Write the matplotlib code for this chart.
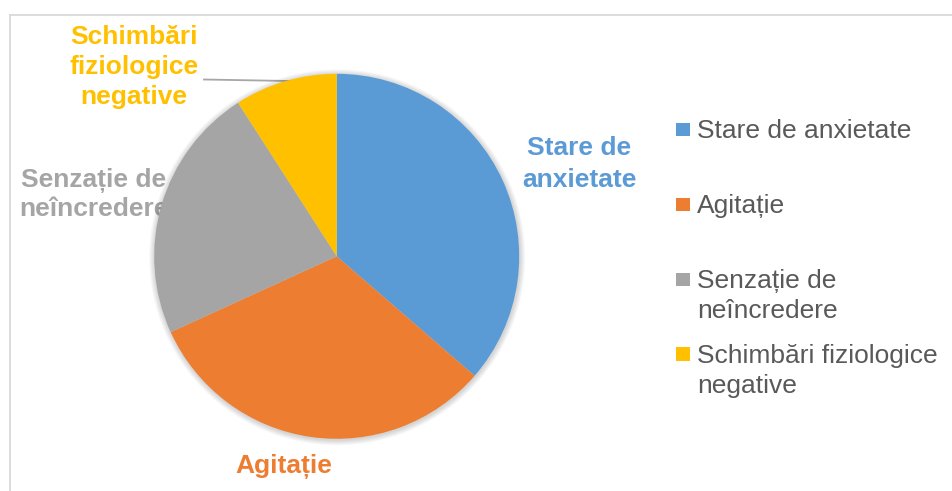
import matplotlib
matplotlib.use("Agg")
import matplotlib.pyplot as plt
from matplotlib.patches import Circle, Rectangle
from matplotlib.lines import Line2D

# ---- data ----
categories = ["Stare de anxietate", "Agitație", "Senzație de neîncredere",
              "Schimbări fiziologice negative"]
values = [16, 14, 10, 4]
colors = ["#5B9BD5", "#ED7D31", "#A5A5A5", "#FFC000"]
# data-label line breaks (as in the reference)
label_lines = [["Stare de", "anxietate"], ["Agitație"],
               ["Senzație de", "neîncredere"],
               ["Schimbări", "fiziologice", "negative"]]
legend_lines = [["Stare de anxietate"], ["Agitație"],
                ["Senzație de", "neîncredere"],
                ["Schimbări fiziologice", "negative"]]

W, H = 953, 491
plt.rcParams['font.family'] = ['Liberation Sans', 'DejaVu Sans']
fig = plt.figure(figsize=(W / 100, H / 100), dpi=100)
ax = fig.add_axes([0, 0, 1, 1])

def Y(y):  # convert top-origin pixel y to axes coordinate
    return H - y

cx, cy, r = 336.7, Y(256.3), 182.5

# labels (drawn under the pie)
lab_pos = [(579, [155, 186.5]), (284, [473]), (94, [187, 216]),
           (134, [43.5, 73.5, 103.5])]
for (x, ys), lines, col in zip(lab_pos, label_lines, colors):
    for yy, t in zip(ys, lines):
        ax.text(x, Y(yy), t, ha='center', va='baseline', fontsize=19,
                fontweight='bold', color=col, zorder=1)

# leader line for the small slice
ax.add_line(Line2D([204, 289], [Y(79.5), Y(81)], color='#A6A6A6', lw=1.3, zorder=2))

# soft shadow
for i in range(1, 8):
    ax.add_patch(Circle((cx + 0.5, cy - 1.0), r + i * 0.8, color='black',
                        alpha=0.022, lw=0, zorder=2))

wedges, _ = ax.pie(values, colors=colors, startangle=90, counterclock=False,
                   center=(cx, cy), radius=r,
                   wedgeprops=dict(linewidth=0, zorder=3))
for w in wedges:
    w.set_zorder(3)

# legend (manual, Excel-like placement)
leg_y = [[138, None], [213], [288, 318], [362, 393]]
leg_base = [[138], [213], [288, 318], [362.5, 393]]
for lines, ys, col in zip(legend_lines, leg_base, colors):
    ax.add_patch(Rectangle((676, Y(ys[0] - 2)), 14, 13.5, color=col, lw=0, zorder=3))
    for yy, t in zip(ys, lines):
        ax.text(697, Y(yy), t, ha='left', va='baseline', fontsize=19,
                color='#595959', zorder=3)

# chart border (partially visible)
ax.add_line(Line2D([10, W], [Y(14.5), Y(14.5)], color='#D9D9D9', lw=1.3, zorder=0))
ax.add_line(Line2D([10.5, 10.5], [Y(14.5), 0], color='#D9D9D9', lw=1.3, zorder=0))

ax.set_xlim(0, W)
ax.set_ylim(0, H)
ax.set_aspect('auto')
ax.axis('off')

fig.savefig("out.png", dpi=100)
